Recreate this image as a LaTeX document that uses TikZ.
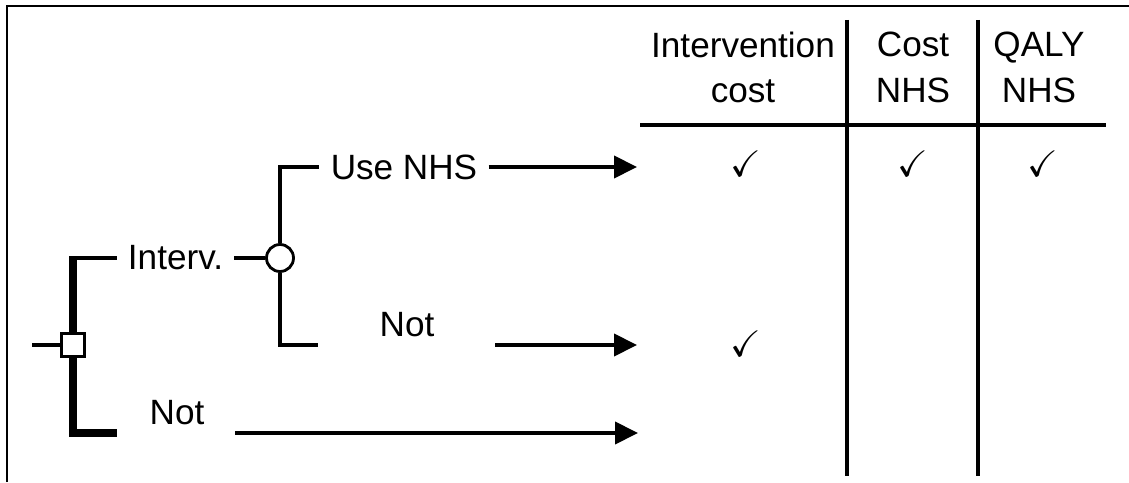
\documentclass[tikz,border=0pt]{standalone}
\usepackage{amsmath, amssymb}
\usepackage{fontspec}
\setmainfont{Liberation Sans}
\usetikzlibrary{arrows.meta}

\begin{document}
\begin{tikzpicture}[
    font=\fontsize{20}{26}\selectfont,
    branch/.style={line width=2.3pt},
    trunk/.style={line width=4pt},
    tablerule/.style={line width=1.9pt},
    arr/.style={line width=2.3pt, -{Triangle[length=0.46cm, width=0.44cm]}},
    branchlbl/.style={inner xsep=0.22cm, inner ysep=0pt},
    ticktext/.style={font=\fontsize{21}{22}\selectfont},
    decision/.style={draw, rectangle, fill=white, line width=1.7pt, minimum size=0.46cm, inner sep=0pt},
    chance/.style={draw, circle, fill=white, line width=1.6pt, minimum size=0.54cm, inner sep=0pt}
]
    \useasboundingbox (0,0) rectangle (22.58,9.64);

    % Frame
    \draw[line width=1.2pt] (0.14,0) -- (0.14,9.52) -- (22.58,9.52);

    % Decision node and its branches
    \node[decision] (dec) at (1.46,2.74) {};
    \coordinate (root) at (0.64,2.74);
    \coordinate (dtop) at (1.46,4.48);
    \coordinate (dbot) at (2.34,0.98);
    \draw[branch] (root) -- (dec);
    \draw[trunk] (dec) -- ([yshift=1.15pt]dtop);
    \draw[trunk] (dec) |- (dbot);

    % Intervention arm with chance node
    \node[branchlbl] (interv) at (3.51,4.48) {Interv.};
    \node[chance] (ch) at (5.6,4.48) {};
    \draw[branch] ([xshift=-2pt]dtop) -- (interv);
    \draw[branch] (interv) -- (ch);

    \node[branchlbl] (usenhs) at (8.08,6.3) {Use NHS};
    \coordinate (cbot) at (6.36,2.74);
    \draw[branch] (ch) |- (usenhs);
    \draw[branch] (ch) |- (cbot);
    \node (notA) at (8.14,3.14) {Not};
    \node (notB) at (3.54,1.38) {Not};

    % Arrows to the table
    \coordinate (endA) at (12.74,6.3);
    \coordinate (startB) at (9.9,2.74);
    \coordinate (endB) at (12.74,2.74);
    \coordinate (startC) at (4.7,0.98);
    \coordinate (endC) at (12.76,0.98);
    \draw[arr] (usenhs) -- (endA);
    \draw[arr] (startB) -- (endB);
    \draw[arr] (startC) -- (endC);

    % Table rules
    \draw[tablerule] (16.94,9.24) -- (16.94,0.12);
    \draw[tablerule] (19.56,9.24) -- (19.56,0.12);
    \draw[tablerule] (12.8,7.14) -- (22.12,7.14);

    % Column headers
    \node[align=center] (hint) at (14.86,8.29) {Intervention\\cost};
    \node[align=center] (hcost) at (18.26,8.29) {Cost\\NHS};
    \node[align=center] (hqaly) at (20.78,8.29) {QALY\\NHS};

    % Ticks
    \node[ticktext] (t11) at (14.92,6.36) {$\checkmark$};
    \node[ticktext] (t12) at (18.26,6.36) {$\checkmark$};
    \node[ticktext] (t13) at (20.86,6.36) {$\checkmark$};
    \node[ticktext] (t21) at (14.92,2.76) {$\checkmark$};
\end{tikzpicture}
\end{document}
